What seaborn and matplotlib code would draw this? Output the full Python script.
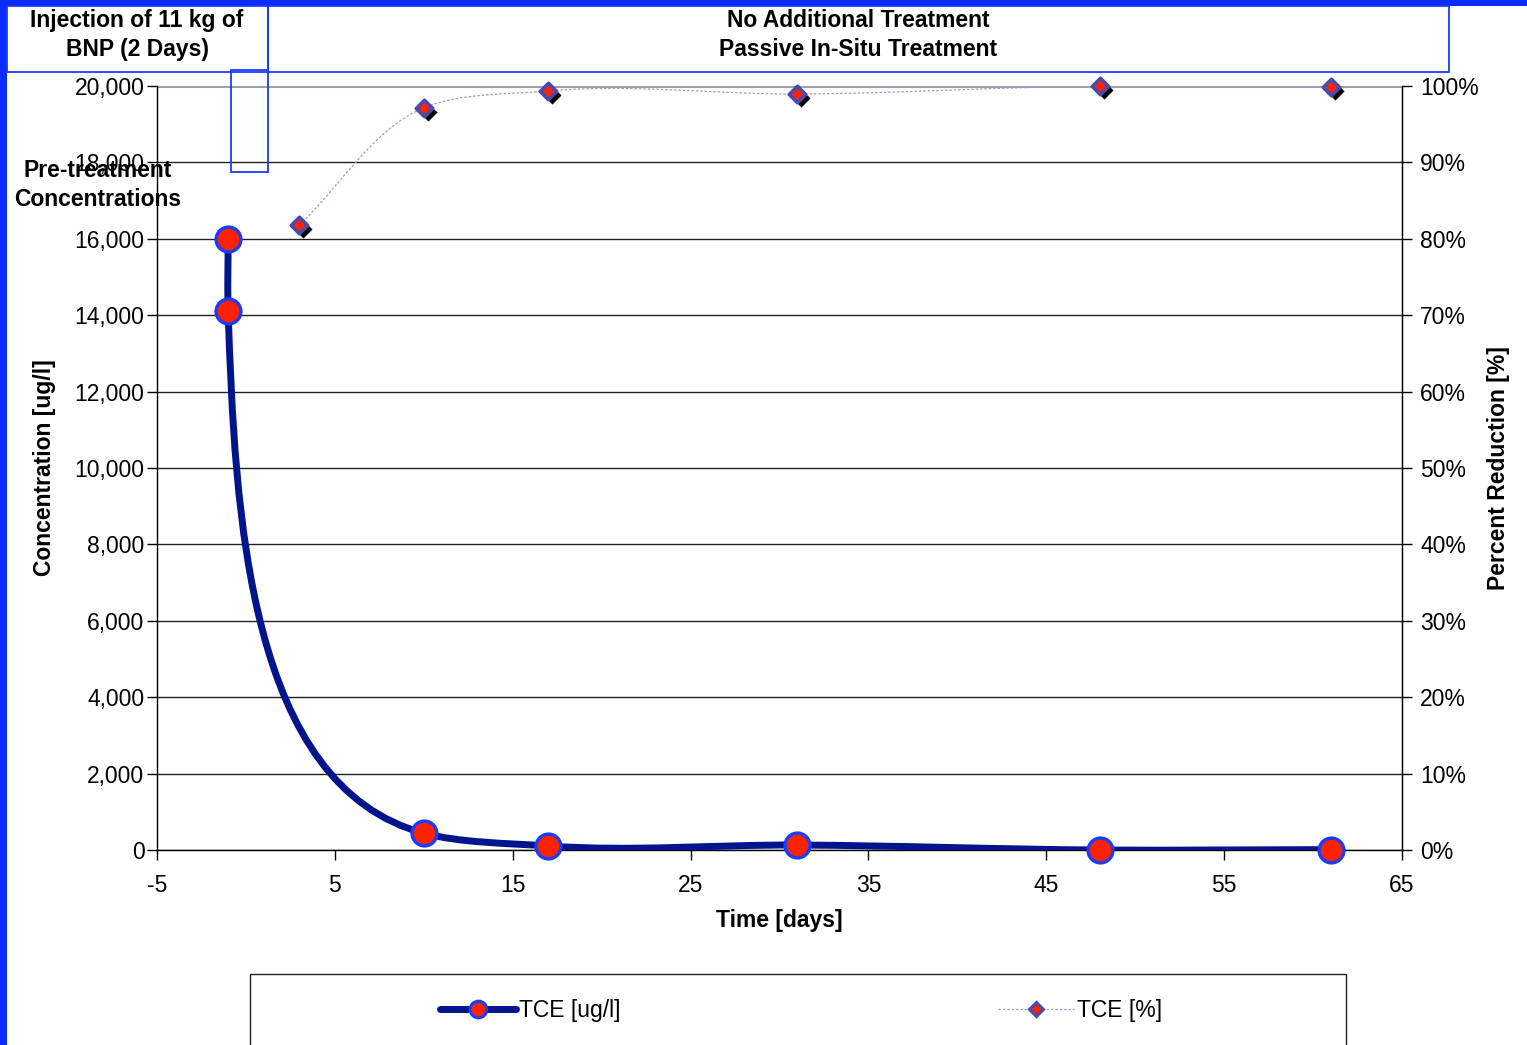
import numpy as np
import pandas as pd
import seaborn as sns
import matplotlib
matplotlib.use("Agg")
import matplotlib.pyplot as plt
from matplotlib.path import Path
from matplotlib.patches import PathPatch, Rectangle
from matplotlib.lines import Line2D
from matplotlib.ticker import FuncFormatter, PercentFormatter
from matplotlib.transforms import offset_copy

# TCE concentration [ug/l] (two pre-treatment samples at day -1)
conc_days = [-1, -1, 10, 17, 31, 48, 61]
conc_values = [16000, 14100, 440, 105, 130, 0, 10]

# TCE percent reduction
pct_days = [3, 10, 17, 31, 48, 61]
pct_values = [0.818, 0.9715, 0.9935, 0.9895, 1.000, 0.999]

y_ticks = list(range(0, 20001, 2000))
x_ticks = list(range(-5, 66, 10))

NAVY = "#00148c"
RED = "#ff2200"
BLUE = "#1a3cff"
DIAMOND_EDGE = "#4a4aa8"
PCT_LINE = "#9a9ad8"
FS = 16.5


def smooth_path(xs, ys, sx, sy, alpha=1.05):
    """Excel-like smoothed line: non-uniform Catmull-Rom turned into bezier segments."""
    pts = np.column_stack([np.asarray(xs, float) * sx, np.asarray(ys, float) * sy])
    ext = np.vstack([2 * pts[0] - pts[1], pts, 2 * pts[-1] - pts[-2]])
    verts = [pts[0]]
    codes = [Path.MOVETO]
    for i in range(1, len(ext) - 2):
        p0, p1, p2, p3 = ext[i - 1], ext[i], ext[i + 1], ext[i + 2]
        a1 = np.linalg.norm(p1 - p0) ** alpha
        a2 = np.linalg.norm(p2 - p1) ** alpha
        a3 = np.linalg.norm(p3 - p2) ** alpha
        b1 = (a1**2 * p2 - a2**2 * p0 + (2 * a1**2 + 3 * a1 * a2 + a2**2) * p1) / (3 * a1 * (a1 + a2))
        b2 = (a3**2 * p1 - a2**2 * p3 + (2 * a3**2 + 3 * a3 * a2 + a2**2) * p2) / (3 * a3 * (a3 + a2))
        verts += [b1, b2, p2]
        codes += [Path.CURVE4] * 3
    verts = np.array(verts) / [sx, sy]
    return Path(verts, codes)


sns.set_style("white")
plt.rcParams["font.family"] = ["Liberation Sans", "DejaVu Sans"]
plt.rcParams["font.size"] = FS
plt.rcParams["axes.unicode_minus"] = False
for key in ("text.color", "axes.labelcolor", "xtick.color", "ytick.color"):
    plt.rcParams[key] = "black"

W, H = 1527, 1045
fig = plt.figure(figsize=(W / 100, H / 100), dpi=100)
fig.patch.set_facecolor("white")

ax_l, ax_r, ax_t, ax_b = 157, 1402, 86, 850
ax = fig.add_axes([ax_l / W, 1 - ax_b / H, (ax_r - ax_l) / W, (ax_b - ax_t) / H])
ax2 = ax.twinx()

ax.set_xlim(-5, 65)
ax.set_ylim(0, 20000)
ax2.set_ylim(0, 1)

# pixel scales used for smoothing
sx = (ax_r - ax_l) / 70
sy_c = (ax_b - ax_t) / 20000
sy_p = (ax_b - ax_t) / 1.0

df_c = pd.DataFrame({"day": conc_days, "tce": conc_values})
df_p = pd.DataFrame({"day": pct_days, "pct": pct_values})

# gridlines
ax.set_yticks(y_ticks)
ax.set_xticks(x_ticks)
ax.grid(axis="y", color="#222222", lw=1.0)
ax.grid(axis="x", visible=False)
ax.set_axisbelow(True)
gl = ax.get_ygridlines()
gl[-1].set_color("#a0a0a0")
gl[-1].set_linewidth(2.2)

# concentration line + markers
ax.add_patch(PathPatch(smooth_path(conc_days, conc_values, sx, sy_c),
                       facecolor="none", edgecolor=NAVY, lw=5, capstyle="round",
                       joinstyle="round", zorder=3))
sns.scatterplot(data=df_c, x="day", y="tce", ax=ax, s=320, color=RED,
                edgecolor=BLUE, linewidth=2.4, zorder=4, legend=False,
                clip_on=False)

# percent line + diamonds with shadow
ax2.add_patch(PathPatch(smooth_path(pct_days, pct_values, sx, sy_p),
                        facecolor="none", edgecolor=PCT_LINE, lw=0.9,
                        linestyle=(0, (2, 1.5)), zorder=2))
shadow = offset_copy(ax2.transData, fig=fig, x=4, y=-4, units="dots")
ax2.scatter(pct_days, pct_values, marker="D", s=85, color="black",
            linewidths=0, transform=shadow, zorder=3, clip_on=False)
sns.scatterplot(data=df_p, x="day", y="pct", ax=ax2, marker="D", s=70,
                color=RED, edgecolor=DIAMOND_EDGE, linewidth=2.6, zorder=4,
                legend=False, clip_on=False)

# axes styling
ax.yaxis.set_major_formatter(FuncFormatter(lambda v, p: f"{v:,.0f}"))
ax2.yaxis.set_major_formatter(PercentFormatter(1, decimals=0))
ax2.set_yticks(np.linspace(0, 1, 11))
ax.tick_params(axis="y", direction="out", length=7, width=1, pad=2,
               labelsize=FS, left=True)
ax.tick_params(axis="x", direction="out", length=7, width=1, pad=10,
               labelsize=FS, bottom=True)
ax2.tick_params(axis="y", direction="out", length=7, width=1, pad=6,
                labelsize=FS, right=True)
for a in (ax, ax2):
    a.set_xlabel("")
    a.set_ylabel("")
    a.spines["top"].set_visible(False)
for side in ("left", "right", "bottom"):
    ax.spines[side].set_color("black")
    ax.spines[side].set_linewidth(1.0)
ax2.spines["left"].set_visible(False)
ax2.spines["bottom"].set_visible(False)
ax2.spines["right"].set_color("black")
ax2.patch.set_visible(False)

# axis titles
fig.text(45 / W, 1 - 468 / H, "Concentration [ug/l]", rotation=90, ha="center",
         va="center", fontsize=FS, fontweight="bold")
fig.text(1498 / W, 1 - 468 / H, "Percent Reduction [%]", rotation=90,
         ha="center", va="center", fontsize=FS, fontweight="bold")
fig.text(779 / W, 1 - 921 / H, "Time [days]", ha="center", va="center",
         fontsize=FS, fontweight="bold")

# frame strips and header boxes
fig.patches.append(Rectangle((0, 0), 7 / W, 1, transform=fig.transFigure,
                             facecolor="#0a2cff", edgecolor="none", zorder=5))
fig.patches.append(Rectangle((0, 1 - 6 / H), 1, 6 / H, transform=fig.transFigure,
                             facecolor="#0a2cff", edgecolor="none", zorder=5))
fig.patches.append(Rectangle((7 / W, 1 - 72 / H), 261 / W, 66 / H,
                             transform=fig.transFigure, facecolor="none",
                             edgecolor=BLUE, lw=1.3, zorder=5))
fig.patches.append(Rectangle((268 / W, 1 - 72 / H), 1181 / W, 66 / H,
                             transform=fig.transFigure, facecolor="none",
                             edgecolor=BLUE, lw=1.3, zorder=5))
fig.patches.append(Rectangle((231 / W, 1 - 172 / H), 37 / W, 102 / H,
                             transform=fig.transFigure, facecolor="none",
                             edgecolor=BLUE, lw=1.3, zorder=5))

fig.text(137 / W, 1 - 35 / H, "Injection of 11 kg of\nBNP (2 Days)", ha="center",
         va="center", fontsize=FS, fontweight="bold", linespacing=1.33)
fig.text(858 / W, 1 - 35 / H, "No Additional Treatment\nPassive In-Situ Treatment",
         ha="center", va="center", fontsize=FS, fontweight="bold", linespacing=1.33)
fig.text(98 / W, 1 - 185 / H, "Pre-treatment\nConcentrations", ha="center",
         va="center", fontsize=FS, fontweight="bold", linespacing=1.33, zorder=6)

# legend box at bottom
fig.patches.append(Rectangle((250 / W, -0.02), 1096 / W, 0.02 + 1 - 974 / H,
                             transform=fig.transFigure, facecolor="white",
                             edgecolor="#222222", lw=1.0, zorder=1))
handles = [
    Line2D([], [], color=NAVY, lw=5, marker="o", markersize=12,
           markerfacecolor=RED, markeredgecolor=BLUE, markeredgewidth=2.2),
    Line2D([], [], color=PCT_LINE, lw=0.9, linestyle=(0, (2, 1.5)), marker="D",
           markersize=7, markerfacecolor=RED, markeredgecolor=DIAMOND_EDGE,
           markeredgewidth=2.2),
]
leg = fig.legend(handles, ["TCE [ug/l]", "TCE [%]"], ncol=2, frameon=False,
                 loc="center left", bbox_to_anchor=(440 / W, 1 - 1011 / H),
                 borderpad=0, borderaxespad=0, handlelength=3.3,
                 handletextpad=0.13, columnspacing=16.5, fontsize=FS)
leg.set_zorder(6)

fig.savefig("out.png", dpi=100, facecolor="white")
